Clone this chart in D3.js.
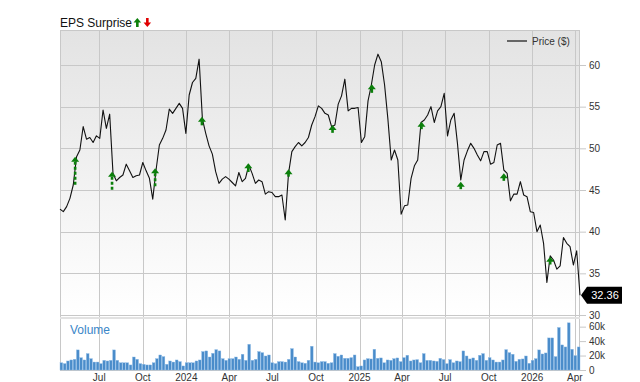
<!DOCTYPE html>
<html><head><meta charset="utf-8">
<script src="https://cdn.jsdelivr.net/npm/d3@7"></script>
<style>
html,body{margin:0;padding:0;background:#fff;}
svg{display:block;font-family:"Liberation Sans",Arial,sans-serif;}
</style></head>
<body><svg id="c" width="640" height="382"></svg>
<script>
// ---- data ----
const startDate = "2023-04-09"; // first weekly point
const prices = [
42.7,42.4,43.0,44.0,45.6,49.0,49.8,52.6,51.1,51.3,
50.7,51.5,51.2,54.6,52.4,54.1,47.0,46.1,46.5,46.8,
48.1,47.3,46.5,46.7,46.8,48.3,47.3,46.4,43.9,47.4,
50.4,51.2,52.2,54.7,54.2,54.8,55.4,54.8,51.8,56.4,
57.9,58.4,60.7,53.5,51.8,50.3,49.3,47.2,45.8,46.3,
46.6,46.3,45.9,45.5,47.1,46.0,46.4,48.0,47.0,45.8,
46.2,46.0,44.5,44.8,44.7,44.2,44.2,44.4,41.4,47.0,
49.6,50.2,50.7,50.3,50.7,51.3,52.8,53.8,55.1,54.8,
54.2,54.0,52.6,52.8,55.3,56.3,58.3,54.5,54.8,54.8,
54.9,50.7,51.4,55.7,57.6,60.0,61.3,60.4,57.6,53.5,
48.6,49.8,48.6,42.1,43.1,43.2,46.4,47.9,48.6,53.1,
53.4,54.0,55.0,53.1,54.5,55.0,56.6,51.5,53.4,54.2,
50.6,46.2,48.6,49.7,50.6,50.0,49.2,48.5,49.6,49.6,
48.1,48.3,50.4,50.6,47.4,47.0,43.7,44.5,44.5,46.0,
44.4,44.2,42.4,42.3,40.0,40.8,38.6,33.9,37.1,36.6,
35.5,35.9,39.3,38.6,38.2,36.0,37.7,32.36
];
const volumes = [ // thousands
10,8.8,12.5,13.9,14.8,27.8,17,13.9,22.7,15.7,
11,11,8.8,13.4,12.5,13.4,27.8,13.4,10,10,
10,7,18,14.8,8.8,7.9,7,7,10,15.7,
20.8,18.5,7.9,12.5,11,13.9,11.6,5.6,10,10,
10,12.5,13.9,25.5,26.4,18,23.1,28.2,26.4,15.7,
13.4,15.7,
15.7,18,14.8,21.8,13.4,35.6,13.4,14.8,25.5,24,
19.4,20.8,10,8.8,11.6,11.6,11,14.8,29.6,18,
11.6,10,9.3,13.4,32.9,11,10,11.6,11.6,9.3,
10,22.7,19,20.8,16.2,16.2,17.1,20.8,4.6,5.6,
13.9,15.7,15.3,28.7,16.2,16.7,10,13.9,13.4,15.7,
16.7,11.6,17.1,20.4,
12.5,13.9,14.4,10,22.7,13.4,13.4,12.5,12,16.2,
14.4,8.8,14.4,10,12.5,11.6,26.4,19.4,15.3,16.7,
13.4,20.4,22.7,13.4,17.1,13.9,11,11,13.9,28.2,
24,21.8,12,14.8,15.3,19.4,9.3,13.4,15.7,27.8,
22.2,23.6,44.4,44.4,18.5,58.8,34.7,31.9,65.3,28.7,
19.9,31.9
];
const epsDates  = ["2023-05-11","2023-07-28","2023-10-27","2024-02-03","2024-05-11","2024-08-04",
                   "2024-11-05","2025-01-27","2025-05-12","2025-08-03","2025-11-02","2026-02-08"];
const epsTop    = [49.0,47.2,47.6,53.8,48.2,47.5,52.8,57.7,53.2,46.0,47.0,37.0];
const epsBottom = [45.6,45.0,45.4,52.7,47.1,46.6,51.8,56.6,52.3,45.1,46.1,36.0];
const priceTicks = [30,35,40,45,50,55,60];
const volTicks = [0,20,40,60];
const volTickLabels = ["0","20k","40k","60k"];
const lastPriceLabel = "32.36";

// ---- layout ----
const svg = d3.select("#c");
const L = 60, R = 580, PT = 30, PB = 315, VT = 319, VB = 370;
const parse = d3.utcParse("%Y-%m-%d");
const d0 = parse(startDate);
const dates = prices.map((_, i) => d3.utcDay.offset(d0, 7 * i));

const x = d3.scaleUtc().domain([dates[0], dates[dates.length - 1]]).range([L, R]);
const y = d3.scaleLinear().domain([30, 64.2]).range([PB, PT]);
const xb = d3.scaleBand().domain(d3.range(volumes.length)).range([L, R]).paddingInner(0.18);
const yv = d3.scaleLinear().domain([0, 70.6]).range([VB, VT]);

// gradient background
const defs = svg.append("defs");
const g = defs.append("linearGradient").attr("id", "bg").attr("x1", 0).attr("y1", 0).attr("x2", 0).attr("y2", 1);
g.append("stop").attr("offset", "0%").attr("stop-color", "#e3e3e3");
g.append("stop").attr("offset", "100%").attr("stop-color", "#ffffff");
svg.append("rect").attr("x", L).attr("y", PT).attr("width", R - L).attr("height", PB - PT).attr("fill", "url(#bg)");

// quarter ticks
const qTicks = x.ticks(d3.utcMonth.every(3)).filter(d => x(d) > L + 2 && x(d) <= R);
const fmtQ = d => d.getUTCMonth() === 0 ? d3.utcFormat("%Y")(d) : d3.utcFormat("%b")(d);

// grid lines
const grid = svg.append("g").attr("stroke", "#c8c8c8").attr("stroke-width", 1).attr("shape-rendering", "crispEdges");
grid.selectAll(".vg").data(qTicks).join("line")
  .attr("x1", d => Math.round(x(d)) + 0.5).attr("x2", d => Math.round(x(d)) + 0.5)
  .attr("y1", PT).attr("y2", VB);
grid.selectAll(".hg").data(priceTicks).join("line")
  .attr("x1", L).attr("x2", R)
  .attr("y1", d => Math.round(y(d)) + 0.5).attr("y2", d => Math.round(y(d)) + 0.5);
// panel borders
grid.append("line").attr("x1", L + 0.5).attr("x2", L + 0.5).attr("y1", PT).attr("y2", VB);
grid.append("line").attr("x1", R - 0.5).attr("x2", R - 0.5).attr("y1", PT).attr("y2", VB);
grid.append("line").attr("x1", L).attr("x2", R).attr("y1", PT + 0.5).attr("y2", PT + 0.5);
svg.append("rect").attr("x", L).attr("y", PB + 2).attr("width", R - L).attr("height", 2).attr("fill", "#e2e2e2");
grid.append("line").attr("x1", L).attr("x2", R).attr("y1", VB + 0.5).attr("y2", VB + 0.5);

// volume bars
svg.append("g").selectAll("rect").data(volumes).join("rect")
  .attr("x", (d, i) => xb(i)).attr("width", xb.bandwidth())
  .attr("y", d => yv(d)).attr("height", d => VB - yv(d))
  .attr("fill", "#4a8cca").attr("stroke", "#8dbbe6").attr("stroke-width", 0.4);

svg.append("text").attr("x", 70).attr("y", 334).attr("font-size", 12).attr("fill", "#3a86c8").text("Volume");

// price line
svg.append("path").datum(prices)
  .attr("fill", "none").attr("stroke", "#111").attr("stroke-width", 1.1).attr("stroke-linejoin", "round")
  .attr("d", d3.line().x((d, i) => x(dates[i])).y(d => y(d)));

// EPS arrows
const green = "#0b7f0b";
const ea = svg.append("g");
epsDates.forEach((ds, k) => {
  const cx = x(parse(ds));
  const yt = y(epsTop[k]), yb = y(epsBottom[k]);
  const headH = 5, stemTop = yt + headH;
  const long = (yb - yt) > 12;
  if (long) {
    ea.append("line").attr("x1", cx).attr("x2", cx).attr("y1", stemTop).attr("y2", yb)
      .attr("stroke", green).attr("stroke-width", 2.6).attr("stroke-dasharray", "3,2");
  } else {
    ea.append("rect").attr("x", cx - 1.3).attr("y", stemTop - 0.5).attr("width", 2.6).attr("height", Math.max(yb - stemTop, 3))
      .attr("fill", green);
  }
  ea.append("path").attr("d", `M${cx - 4},${stemTop} L${cx},${yt} L${cx + 4},${stemTop} Z`).attr("fill", green);
});

// right axes
const axP = svg.append("g").attr("transform", `translate(${R},0)`)
  .call(d3.axisRight(y).tickValues(priceTicks).tickSize(6).tickPadding(3));
const axV = svg.append("g").attr("transform", `translate(${R},0)`)
  .call(d3.axisRight(yv).tickValues(volTicks).tickFormat((d, i) => volTickLabels[i]).tickSize(6).tickPadding(3));
[axP, axV].forEach(a => {
  a.select(".domain").remove();
  a.selectAll("line").attr("stroke", "#c8c8c8");
  a.selectAll("text").attr("font-size", 10).attr("fill", "#333").attr("font-family", "Liberation Sans, Arial, sans-serif");
});

// x axis labels
svg.append("g").selectAll("text").data(qTicks).join("text")
  .attr("x", d => x(d)).attr("y", 381).attr("text-anchor", "middle")
  .attr("font-size", 10).attr("fill", "#333").text(fmtQ);

// last price callout
const lp = prices[prices.length - 1];
const ly = y(lp);
svg.append("path")
  .attr("d", `M${R + 1},${ly} L${R + 7},${ly - 8.5} L${R + 42},${ly - 8.5} L${R + 42},${ly + 8.5} L${R + 7},${ly + 8.5} Z`)
  .attr("fill", "#000");
svg.append("text").attr("x", R + 25).attr("y", ly + 4).attr("text-anchor", "middle")
  .attr("font-size", 11).attr("fill", "#fff").text(lastPriceLabel);

// legend
svg.append("line").attr("x1", 507).attr("x2", 527).attr("y1", 41).attr("y2", 41).attr("stroke", "#666").attr("stroke-width", 2);
svg.append("text").attr("x", 532).attr("y", 44.5).attr("font-size", 10).attr("fill", "#333").text("Price ($)");

// title
const t = svg.append("text").attr("x", 60).attr("y", 27).attr("font-size", 12).attr("fill", "#111").text("EPS Surprise");
const tw = t.node().getComputedTextLength();
const ax0 = 60 + tw + 1.5;
svg.append("path").attr("d", `M${ax0},${22.5} L${ax0 + 3.8},${18} L${ax0 + 7.6},${22.5} Z`).attr("fill", green);
svg.append("rect").attr("x", ax0 + 2.5).attr("y", 22).attr("width", 2.6).attr("height", 5).attr("fill", green);
const bx0 = ax0 + 10;
svg.append("rect").attr("x", bx0 + 2.5).attr("y", 18).attr("width", 2.6).attr("height", 5).attr("fill", "#e00000");
svg.append("path").attr("d", `M${bx0},${22.5} L${bx0 + 3.8},${27} L${bx0 + 7.6},${22.5} Z`).attr("fill", "#e00000");
</script></body></html>
